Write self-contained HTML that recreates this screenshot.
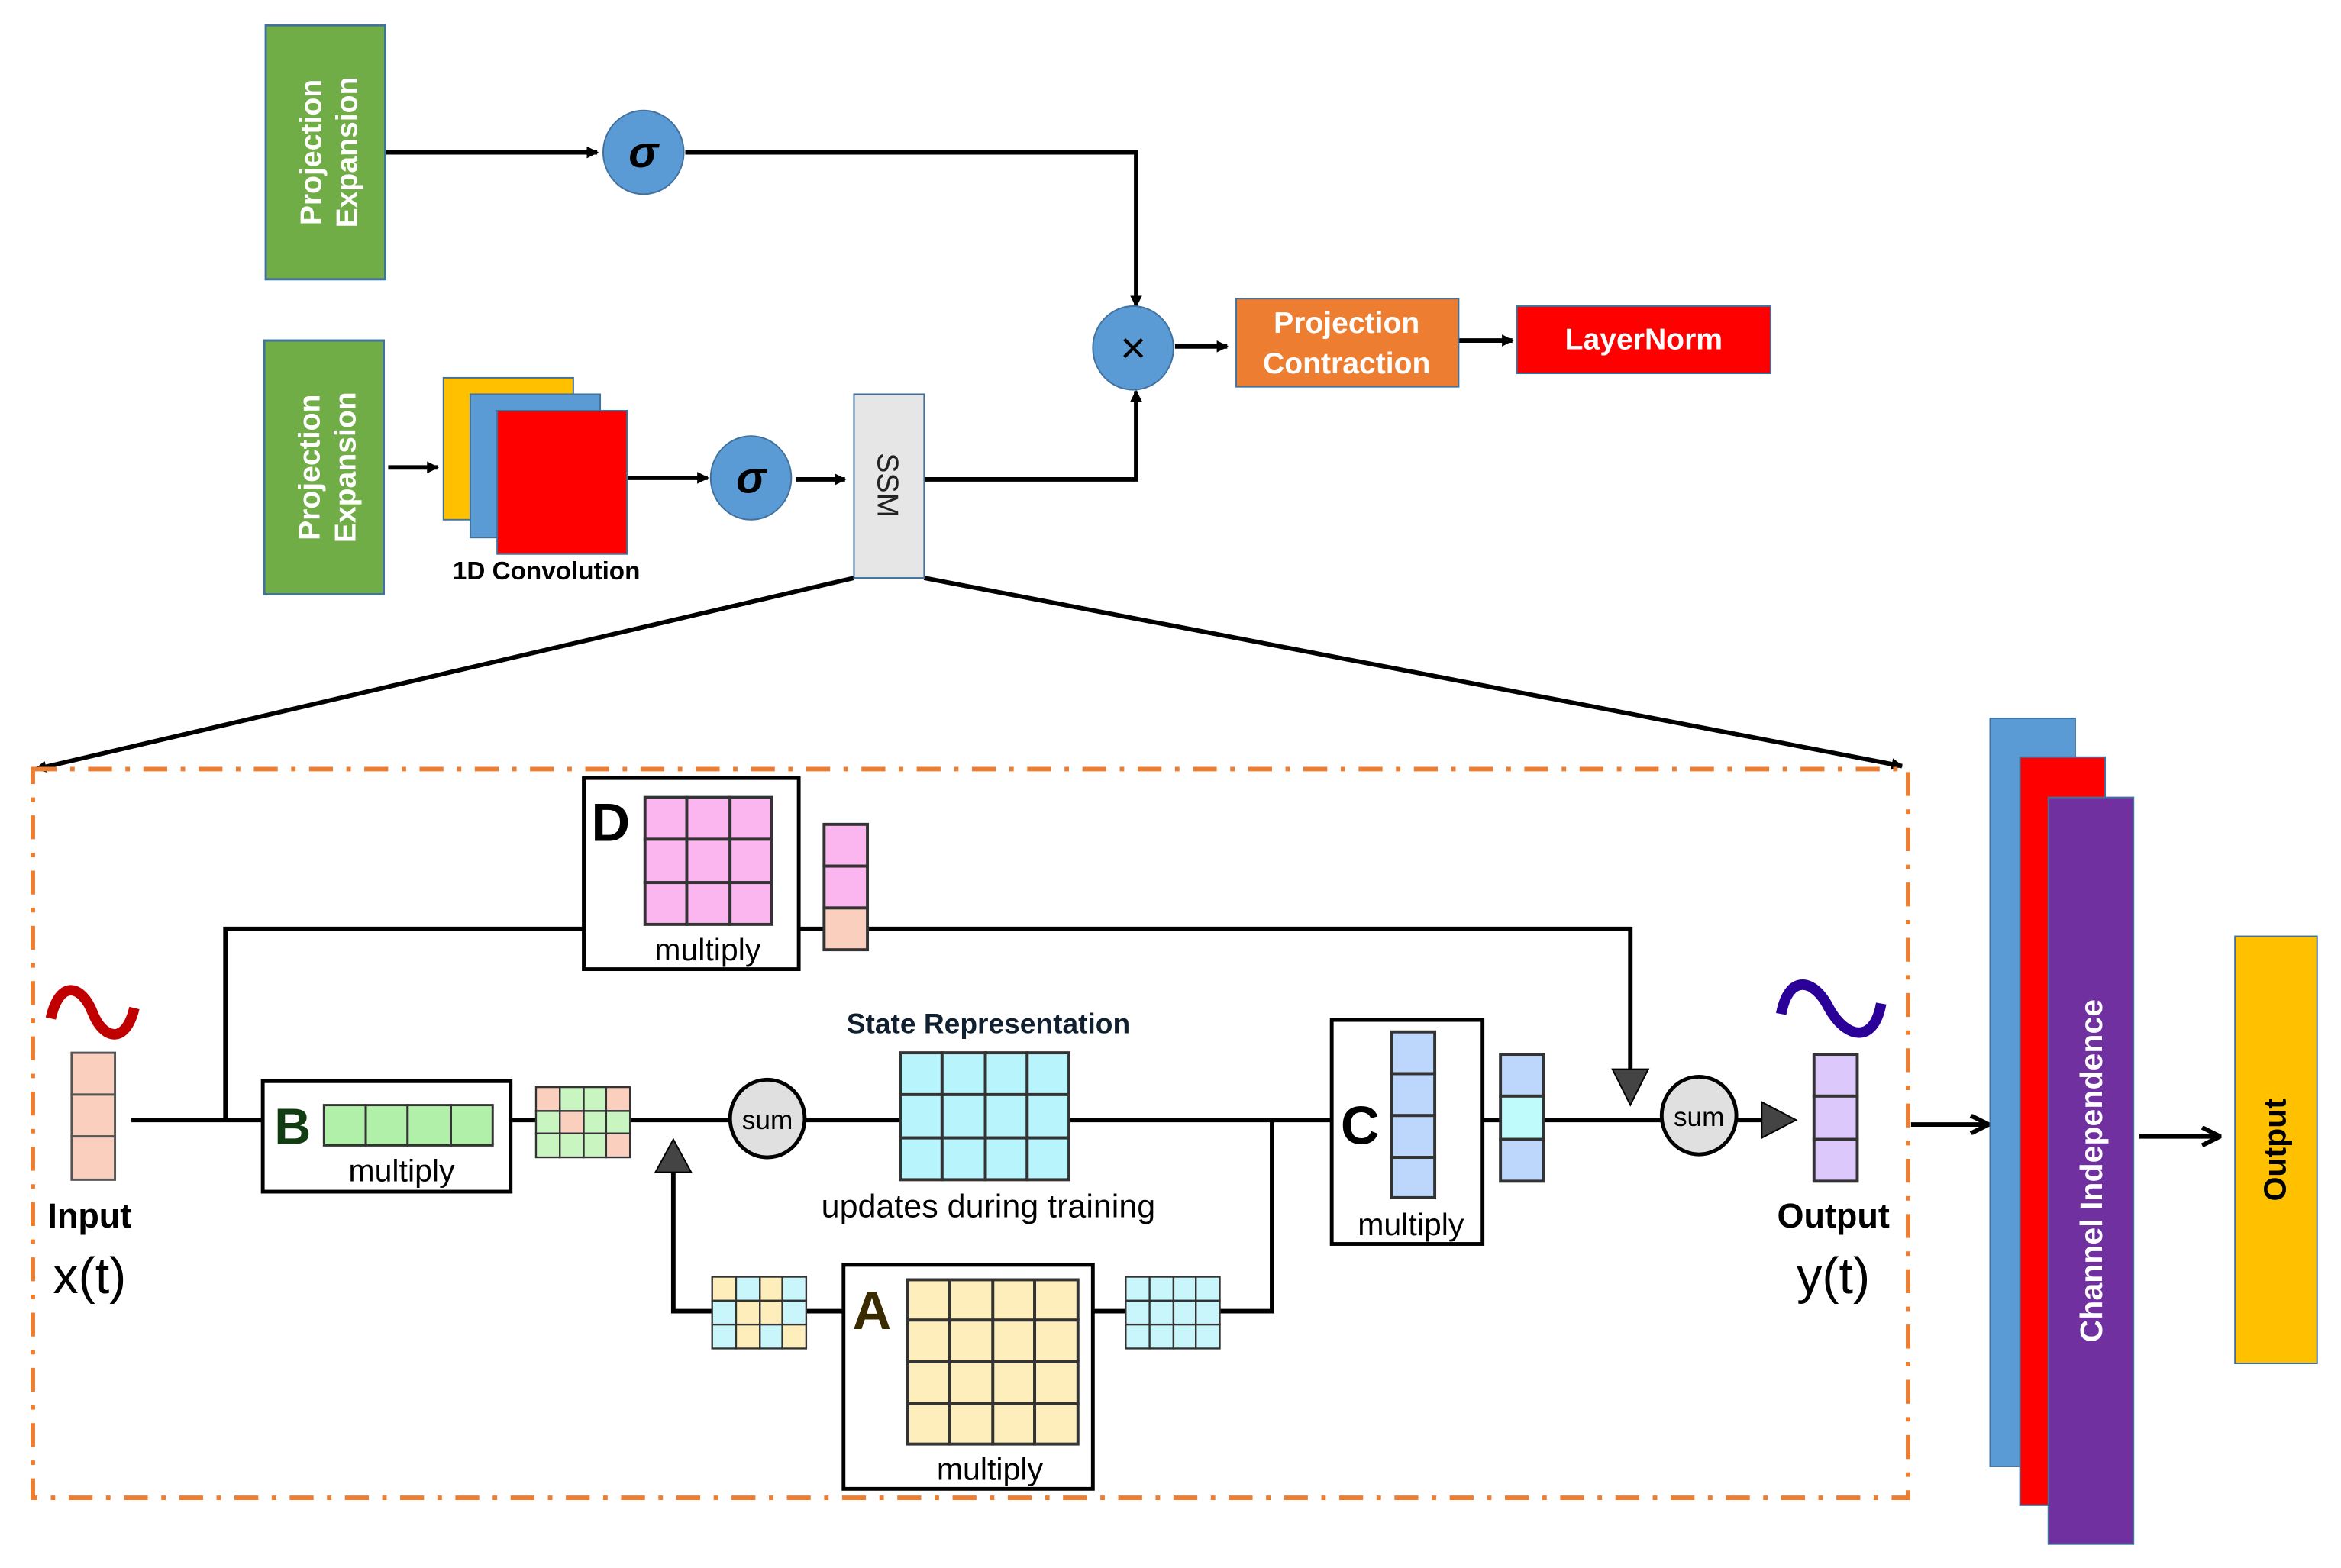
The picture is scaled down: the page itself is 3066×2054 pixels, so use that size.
<!DOCTYPE html>
<html><head><meta charset="utf-8"><style>
html,body{margin:0;padding:0;background:#fff;}
svg{display:block;}
text{font-family:"Liberation Sans","DejaVu Sans",sans-serif;}
</style></head><body>
<svg width="3066" height="2054" viewBox="0 0 1568 1050" preserveAspectRatio="none" xmlns="http://www.w3.org/2000/svg">
<defs>
<marker id="ar" markerWidth="8" markerHeight="8" refX="7" refY="4" orient="auto" markerUnits="userSpaceOnUse"><path d="M0,0 L8,4 L0,8 Z" fill="#000"/></marker>
<marker id="ar2" markerWidth="14" markerHeight="14" refX="13" refY="7" orient="auto" markerUnits="userSpaceOnUse"><path d="M1,1 L13,7 L1,13" fill="none" stroke="#000" stroke-width="3"/></marker>
</defs>
<g stroke="#000" stroke-width="3" fill="none">
<!-- top section lines -->
<line x1="258" y1="102" x2="400" y2="102" marker-end="url(#ar)"/>
<polyline points="459,102 761,102 761,205" marker-end="url(#ar)"/>
<line x1="787" y1="232" x2="822" y2="232" marker-end="url(#ar)"/>
<line x1="977" y1="228" x2="1013" y2="228" marker-end="url(#ar)"/>
<line x1="260" y1="313" x2="293" y2="313" marker-end="url(#ar)"/>
<line x1="420" y1="320" x2="474" y2="320" marker-end="url(#ar)"/>
<line x1="533" y1="321" x2="566" y2="321" marker-end="url(#ar)"/>
<polyline points="619,321 761,321 761,262" marker-end="url(#ar)"/>
<line x1="572" y1="387" x2="24" y2="515" marker-end="url(#ar)"/>
<line x1="619" y1="387" x2="1274" y2="513" marker-end="url(#ar)"/>
<!-- bottom SSM lines -->
<line x1="88" y1="750" x2="176" y2="750"/>
<polyline points="151,750 151,622 391,622"/>
<line x1="535" y1="622" x2="552" y2="622"/>
<polyline points="581,622 1092,622 1092,725"/>
<line x1="342" y1="750" x2="359" y2="750"/>
<line x1="422" y1="750" x2="489" y2="750"/>
<line x1="539" y1="750" x2="603" y2="750"/>
<line x1="716" y1="750" x2="892" y2="750"/>
<polyline points="852,750 852,878 817,878"/>
<line x1="732" y1="878" x2="754" y2="878"/>
<line x1="540" y1="878" x2="565" y2="878"/>
<polyline points="477,878 451,878 451,785"/>
<line x1="993" y1="750" x2="1005" y2="750"/>
<line x1="1034" y1="750" x2="1113" y2="750"/>
<line x1="1163" y1="750" x2="1182" y2="750"/>
<line x1="1280" y1="753" x2="1332" y2="753" marker-end="url(#ar2)"/>
<line x1="1433" y1="761" x2="1487" y2="761" marker-end="url(#ar2)"/>
</g>
<path d="M1080,716 L1104,716 L1092,740 Z" fill="#444" stroke="#000" stroke-width="1"/>
<path d="M439,785 L463,785 L451,763 Z" fill="#444" stroke="#000" stroke-width="1"/>
<path d="M1180,738 L1180,762 L1203,750 Z" fill="#444" stroke="#000" stroke-width="1"/>

<!-- top boxes -->
<rect x="178" y="17" width="80" height="170" fill="#70ad47" stroke="#41719c" stroke-width="1.5"/>
<text transform="translate(218,102) rotate(-90)" text-anchor="middle" fill="#fff" font-size="20" font-weight="bold"><tspan x="0" dy="-3">Projection</tspan><tspan x="0" dy="24">Expansion</tspan></text>
<rect x="177" y="228" width="80" height="170" fill="#70ad47" stroke="#41719c" stroke-width="1.5"/>
<text transform="translate(217,313) rotate(-90)" text-anchor="middle" fill="#fff" font-size="20" font-weight="bold"><tspan x="0" dy="-3">Projection</tspan><tspan x="0" dy="24">Expansion</tspan></text>
<ellipse cx="431" cy="102" rx="27" ry="28" fill="#5b9bd5" stroke="#41719c"/>
<text x="431" y="112" text-anchor="middle" font-size="30" font-weight="bold" font-style="italic" font-family="Liberation Serif">σ</text>
<ellipse cx="503" cy="320" rx="27" ry="28" fill="#5b9bd5" stroke="#41719c"/>
<text x="503" y="330" text-anchor="middle" font-size="30" font-weight="bold" font-style="italic" font-family="Liberation Serif">σ</text>
<ellipse cx="759" cy="233" rx="27" ry="28" fill="#5b9bd5" stroke="#41719c"/>
<text x="759" y="243" text-anchor="middle" font-size="30">×</text>
<rect x="828" y="200" width="149" height="59" fill="#ed7d31" stroke="#41719c"/>
<text x="902" y="223" text-anchor="middle" fill="#fff" font-size="20" font-weight="bold">Projection</text>
<text x="902" y="250" text-anchor="middle" fill="#fff" font-size="20" font-weight="bold">Contraction</text>
<rect x="1016" y="205" width="170" height="45" fill="#ff0000" stroke="#41719c"/>
<text x="1101" y="234" text-anchor="middle" fill="#fff" font-size="20" font-weight="bold">LayerNorm</text>
<rect x="297" y="253" width="87" height="95" fill="#ffc000" stroke="#41719c"/>
<rect x="315" y="264" width="87" height="96" fill="#5b9bd5" stroke="#41719c"/>
<rect x="333" y="275" width="87" height="96" fill="#ff0000" stroke="#41719c"/>
<text x="366" y="388" text-anchor="middle" font-size="17" font-weight="bold">1D Convolution</text>
<rect x="572" y="264" width="47" height="123" fill="#e7e6e6" stroke="#41719c"/>
<text transform="translate(595,325) rotate(90)" text-anchor="middle" font-size="20" dy="7" fill="#222">SSM</text>

<!-- dashed frame -->
<rect x="22" y="515" width="1256" height="488" fill="none" stroke="#ed7d31" stroke-width="3" stroke-dasharray="16,9,3,9"/>

<!-- input -->
<path d="M34,682 C40,655 55,660 62,678 C69,696 84,700 90,675" fill="none" stroke="#c00000" stroke-width="7"/>
<g stroke="#555" stroke-width="1.5"><rect x="48" y="705" width="29" height="28" fill="#fbcfbe"/><rect x="48" y="733" width="29" height="28" fill="#fbcfbe"/><rect x="48" y="761" width="29" height="29" fill="#fbcfbe"/></g>
<text x="60" y="822" text-anchor="middle" font-size="23" font-weight="bold">Input</text>
<text x="60" y="866" text-anchor="middle" font-size="34">x(t)</text>

<!-- D -->
<rect x="391" y="521" width="144" height="128" fill="#fff" stroke="#000" stroke-width="2.5"/>
<text x="409" y="563" text-anchor="middle" font-size="36" font-weight="bold">D</text>
<g fill="#fbb6f0" stroke="#333" stroke-width="2">
<rect x="432" y="534" width="28" height="28"/><rect x="460" y="534" width="29" height="28"/><rect x="489" y="534" width="28" height="28"/>
<rect x="432" y="562" width="28" height="29"/><rect x="460" y="562" width="29" height="29"/><rect x="489" y="562" width="28" height="29"/>
<rect x="432" y="591" width="28" height="28"/><rect x="460" y="591" width="29" height="28"/><rect x="489" y="591" width="28" height="28"/>
</g>
<text x="474" y="643" text-anchor="middle" font-size="21">multiply</text>
<g stroke="#333" stroke-width="2"><rect x="552" y="552" width="29" height="28" fill="#fbb6f0"/><rect x="552" y="580" width="29" height="28" fill="#fbb6f0"/><rect x="552" y="608" width="29" height="28" fill="#fbcfbe"/></g>

<!-- B -->
<rect x="176" y="724" width="166" height="74" fill="#fff" stroke="#000" stroke-width="2.5"/>
<text x="196" y="766" text-anchor="middle" font-size="34" font-weight="bold" fill="#123d12">B</text>
<g fill="#b0f0a8" stroke="#333" stroke-width="1.5"><rect x="217" y="740" width="28" height="27"/><rect x="245" y="740" width="28" height="27"/><rect x="273" y="740" width="29" height="27"/><rect x="302" y="740" width="28" height="27"/></g>
<text x="269" y="791" text-anchor="middle" font-size="21">multiply</text>
<g stroke="#333" stroke-width="1.2">
<rect x="359" y="728" width="16" height="16" fill="#fbcfbe"/><rect x="375" y="728" width="16" height="16" fill="#c8f5c0"/><rect x="391" y="728" width="15" height="16" fill="#c8f5c0"/><rect x="406" y="728" width="16" height="16" fill="#fbcfbe"/>
<rect x="359" y="744" width="16" height="15" fill="#c8f5c0"/><rect x="375" y="744" width="16" height="15" fill="#fbcfbe"/><rect x="391" y="744" width="15" height="15" fill="#c8f5c0"/><rect x="406" y="744" width="16" height="15" fill="#c8f5c0"/>
<rect x="359" y="759" width="16" height="16" fill="#c8f5c0"/><rect x="375" y="759" width="16" height="16" fill="#c8f5c0"/><rect x="391" y="759" width="15" height="16" fill="#c8f5c0"/><rect x="406" y="759" width="16" height="16" fill="#fbcfbe"/>
</g>

<!-- sum 1 -->
<ellipse cx="514" cy="749" rx="25" ry="26" fill="#e0e0e0" stroke="#000" stroke-width="2.5"/>
<text x="514" y="756" text-anchor="middle" font-size="18">sum</text>

<!-- state -->
<text x="662" y="692" text-anchor="middle" font-size="19" font-weight="bold" fill="#102030">State Representation</text>
<g fill="#b8f4fb" stroke="#333" stroke-width="2">
<rect x="603" y="705" width="28" height="28"/><rect x="631" y="705" width="29" height="28"/><rect x="660" y="705" width="28" height="28"/><rect x="688" y="705" width="28" height="28"/>
<rect x="603" y="733" width="28" height="29"/><rect x="631" y="733" width="29" height="29"/><rect x="660" y="733" width="28" height="29"/><rect x="688" y="733" width="28" height="29"/>
<rect x="603" y="762" width="28" height="28"/><rect x="631" y="762" width="29" height="28"/><rect x="660" y="762" width="28" height="28"/><rect x="688" y="762" width="28" height="28"/>
</g>
<text x="662" y="815" text-anchor="middle" font-size="22">updates during training</text>

<!-- A -->
<rect x="565" y="847" width="167" height="150" fill="#fff" stroke="#000" stroke-width="2.5"/>
<text x="584" y="890" text-anchor="middle" font-size="36" font-weight="bold" fill="#3a2a00">A</text>
<g fill="#fdeebb" stroke="#333" stroke-width="2">
<rect x="608" y="857" width="28" height="27"/><rect x="636" y="857" width="29" height="27"/><rect x="665" y="857" width="28" height="27"/><rect x="693" y="857" width="29" height="27"/>
<rect x="608" y="884" width="28" height="28"/><rect x="636" y="884" width="29" height="28"/><rect x="665" y="884" width="28" height="28"/><rect x="693" y="884" width="29" height="28"/>
<rect x="608" y="912" width="28" height="28"/><rect x="636" y="912" width="29" height="28"/><rect x="665" y="912" width="28" height="28"/><rect x="693" y="912" width="29" height="28"/>
<rect x="608" y="940" width="28" height="27"/><rect x="636" y="940" width="29" height="27"/><rect x="665" y="940" width="28" height="27"/><rect x="693" y="940" width="29" height="27"/>
</g>
<text x="663" y="991" text-anchor="middle" font-size="21">multiply</text>
<g stroke="#333" stroke-width="1.2">
<rect x="477" y="855" width="16" height="16" fill="#fdeebb"/><rect x="493" y="855" width="16" height="16" fill="#c8f6fb"/><rect x="509" y="855" width="15" height="16" fill="#fdeebb"/><rect x="524" y="855" width="16" height="16" fill="#c8f6fb"/>
<rect x="477" y="871" width="16" height="16" fill="#c8f6fb"/><rect x="493" y="871" width="16" height="16" fill="#fdeebb"/><rect x="509" y="871" width="15" height="16" fill="#fdeebb"/><rect x="524" y="871" width="16" height="16" fill="#c8f6fb"/>
<rect x="477" y="887" width="16" height="16" fill="#c8f6fb"/><rect x="493" y="887" width="16" height="16" fill="#fdeebb"/><rect x="509" y="887" width="15" height="16" fill="#c8f6fb"/><rect x="524" y="887" width="16" height="16" fill="#fdeebb"/>
</g>
<g stroke="#333" stroke-width="1.2" fill="#c8f6fb">
<rect x="754" y="855" width="16" height="16"/><rect x="770" y="855" width="16" height="16"/><rect x="786" y="855" width="15" height="16"/><rect x="801" y="855" width="16" height="16"/>
<rect x="754" y="871" width="16" height="16"/><rect x="770" y="871" width="16" height="16"/><rect x="786" y="871" width="15" height="16"/><rect x="801" y="871" width="16" height="16"/>
<rect x="754" y="887" width="16" height="16"/><rect x="770" y="887" width="16" height="16"/><rect x="786" y="887" width="15" height="16"/><rect x="801" y="887" width="16" height="16"/>
</g>

<!-- C -->
<rect x="892" y="683" width="101" height="150" fill="#fff" stroke="#000" stroke-width="2.5"/>
<text x="911" y="766" text-anchor="middle" font-size="36" font-weight="bold">C</text>
<g fill="#bcd7fb" stroke="#333" stroke-width="2"><rect x="932" y="691" width="29" height="28"/><rect x="932" y="719" width="29" height="28"/><rect x="932" y="747" width="29" height="28"/><rect x="932" y="775" width="29" height="27"/></g>
<text x="945" y="827" text-anchor="middle" font-size="21">multiply</text>
<g stroke="#333" stroke-width="2"><rect x="1005" y="706" width="29" height="28" fill="#bcd7fb"/><rect x="1005" y="734" width="29" height="29" fill="#c0fbfb"/><rect x="1005" y="763" width="29" height="28" fill="#bcd7fb"/></g>

<!-- sum 2 -->
<ellipse cx="1138" cy="747" rx="25" ry="26" fill="#e0e0e0" stroke="#000" stroke-width="2.5"/>
<text x="1138" y="754" text-anchor="middle" font-size="18">sum</text>

<!-- output -->
<path d="M1193,679 C1198,652 1215,655 1225,675 C1236,695 1255,700 1260,672" fill="none" stroke="#2a0099" stroke-width="7"/>
<g fill="#dcc8fb" stroke="#333" stroke-width="2"><rect x="1215" y="706" width="29" height="28"/><rect x="1215" y="734" width="29" height="29"/><rect x="1215" y="763" width="29" height="28"/></g>
<text x="1228" y="822" text-anchor="middle" font-size="23" font-weight="bold">Output</text>
<text x="1228" y="866" text-anchor="middle" font-size="34">y(t)</text>

<!-- channel independence -->
<rect x="1333" y="481" width="57" height="501" fill="#5b9bd5" stroke="#41719c"/>
<rect x="1353" y="507" width="57" height="501" fill="#ff0000" stroke="#41719c"/>
<rect x="1372" y="534" width="57" height="500" fill="#7030a0" stroke="#41719c"/>
<text transform="translate(1401,784) rotate(-90)" text-anchor="middle" fill="#fff" font-size="21" font-weight="bold" dy="7">Channel Independence</text>
<rect x="1497" y="627" width="55" height="286" fill="#ffc000" stroke="#41719c"/>
<text transform="translate(1524,770) rotate(-90)" text-anchor="middle" fill="#000" font-size="21" font-weight="bold" dy="7">Output</text>
</svg>
</body></html>
